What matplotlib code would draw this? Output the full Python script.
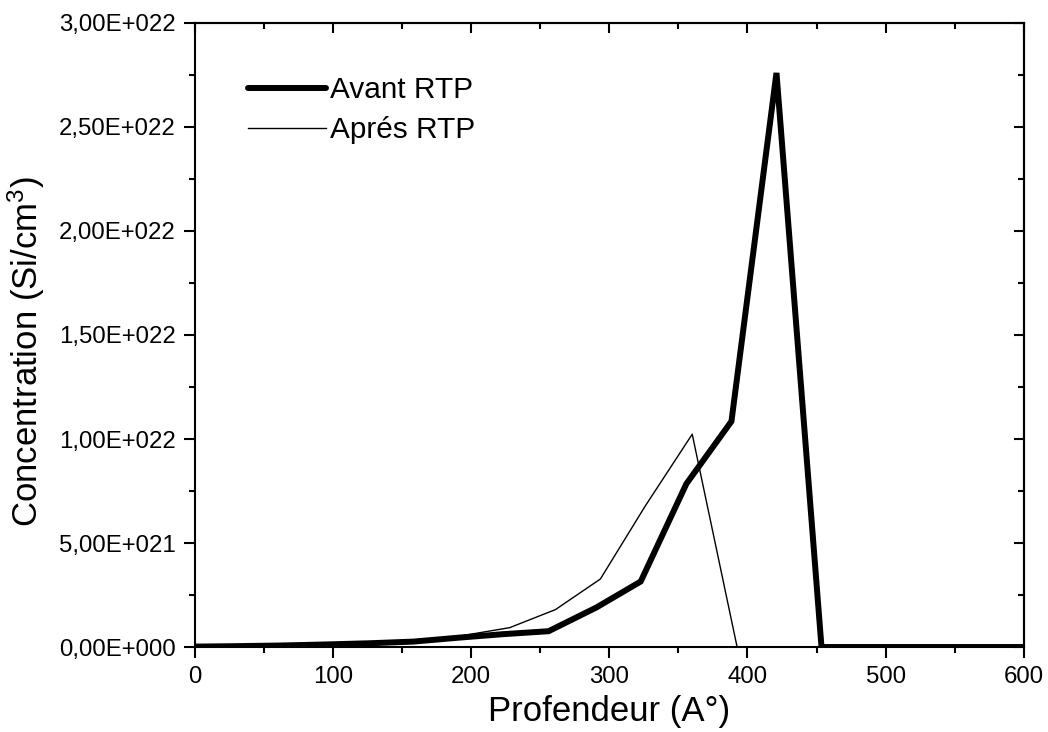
import matplotlib
matplotlib.use("Agg")
import matplotlib.pyplot as plt
from matplotlib.ticker import MultipleLocator, FuncFormatter

plt.rcParams['font.family'] = ['Liberation Sans', 'DejaVu Sans']
plt.rcParams['mathtext.fontset'] = 'custom'
plt.rcParams['mathtext.rm'] = 'Liberation Sans'
plt.rcParams['mathtext.it'] = 'Liberation Sans:italic'
plt.rcParams['mathtext.bf'] = 'Liberation Sans:bold'
plt.rcParams['mathtext.default'] = 'regular'

# Depth profiles (Angstrom) and Si concentration (atoms/cm^3)
depth_avant = [0, 28, 60, 93, 126, 158, 191, 223.5, 256, 290.6, 322.7, 355.8, 388.4, 421, 453.6, 600]
conc_avant = [0.002e22, 0.004e22, 0.007e22, 0.012e22, 0.018e22, 0.026e22, 0.045e22, 0.062e22,
              0.076e22, 0.19e22, 0.315e22, 0.785e22, 1.085e22, 2.76e22, 0.0, 0.0]

depth_apres = [0, 32.7, 65.5, 98, 131, 163.7, 196.5, 227.8, 261, 293.5, 326, 360, 392.5, 600]
conc_apres = [0.002e22, 0.003e22, 0.005e22, 0.008e22, 0.013e22, 0.022e22, 0.058e22, 0.093e22,
              0.18e22, 0.327e22, 0.678e22, 1.023e22, 0.0, 0.0]

label_avant = "Avant RTP"
label_apres = "Aprés RTP"
xlabel = "Profendeur (A°)"
ylabel = "Concentration (Si/cm$^3$)"


def sci_comma(v, pos=None):
    if v == 0:
        return "0,00E+000"
    s = f"{v:.2E}"
    mant, exp = s.split("E")
    sign = exp[0]
    digits = int(exp[1:])
    return f"{mant.replace('.', ',')}E{sign}{digits:03d}"


fig = plt.figure(figsize=(10.48, 7.32), dpi=100)
ax = fig.add_axes([0.1861, 0.1161, 0.7907, 0.8525])

ax.plot(depth_avant, conc_avant, color="black", lw=4.3, solid_joinstyle="miter",
        solid_capstyle="round", label=label_avant)
ax.plot(depth_apres, conc_apres, color="black", lw=1.0, label=label_apres)

ax.set_xlim(0, 600)
ax.set_ylim(0, 3e22)
ax.xaxis.set_major_locator(MultipleLocator(100))
ax.xaxis.set_minor_locator(MultipleLocator(50))
ax.yaxis.set_major_locator(MultipleLocator(0.5e22))
ax.yaxis.set_minor_locator(MultipleLocator(0.25e22))
ax.yaxis.set_major_formatter(FuncFormatter(sci_comma))
ax.yaxis.get_offset_text().set_visible(False)

for sp in ax.spines.values():
    sp.set_linewidth(1.5)

ax.tick_params(which="both", direction="out", width=1.5, labelsize=17.3, top=False, right=False)
ax.tick_params(which="major", length=8, pad=6)
ax.tick_params(which="minor", length=4.5)

# Inward ticks on the top and right edges
sec_top = ax.secondary_xaxis("top")
sec_right = ax.secondary_yaxis("right")
sec_top.xaxis.set_major_locator(MultipleLocator(100))
sec_top.xaxis.set_minor_locator(MultipleLocator(50))
sec_right.yaxis.set_major_locator(MultipleLocator(0.5e22))
sec_right.yaxis.set_minor_locator(MultipleLocator(0.25e22))
for sec in (sec_top, sec_right):
    sec.tick_params(which="both", direction="in", width=1.5, labelleft=False, labelright=False,
                    labeltop=False, labelbottom=False)
    sec.tick_params(which="major", length=7.5)
    sec.tick_params(which="minor", length=4.5)
    sec.spines[:].set_linewidth(1.5)

ax.set_xlabel(xlabel, fontsize=25, labelpad=5)
ax.set_ylabel(ylabel, fontsize=25)
ax.yaxis.set_label_coords(-0.179, 0.473)

ax.legend(loc="upper left", bbox_to_anchor=(0.049, 0.934), frameon=False, fontsize=21.4,
          handlelength=2.63, handletextpad=0.13, labelspacing=0.4, borderaxespad=0)

fig.savefig("out.png", dpi=100)
